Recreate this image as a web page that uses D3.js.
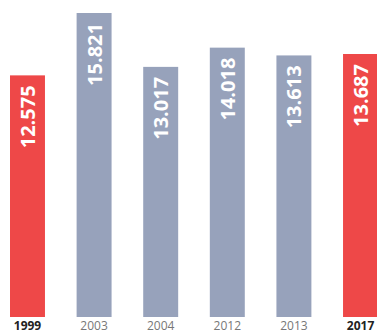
<!DOCTYPE html>
<html>
<head>
<meta charset="utf-8">
<script src="https://cdn.jsdelivr.net/npm/d3@7"></script>
<style>
  html, body { margin: 0; padding: 0; background: #fff; }
  svg { display: block; }
</style>
</head>
<body>
<svg id="chart" width="377" height="334"></svg>
<script>
const years = ["1999", "2003", "2004", "2012", "2013", "2017"];
const values = [12.575, 15.821, 13.017, 14.018, 13.613, 13.687];
const highlighted = ["1999", "2017"];

const width = 377;
const height = 334;
const baseline = 317;

const svg = d3.select("#chart");

const scaleX = d3.scaleBand()
    .domain(years)
    .range([10, 378])
    .paddingInner(0.475)
    .paddingOuter(0);

// bars start from zero
const scaleY = d3.scaleLinear()
    .domain([0, 15.821])
    .range([baseline, 13]);

const data = years.map((y, i) => ({year: y, value: values[i], hot: highlighted.includes(y)}));

svg.selectAll("rect.bar")
    .data(data)
    .join("rect")
    .classed("bar", true)
    .attr("x", d => scaleX(d.year))
    .attr("y", d => scaleY(d.value))
    .attr("width", scaleX.bandwidth())
    .attr("height", d => baseline - scaleY(d.value))
    .attr("fill", d => d.hot ? "#ee4848" : "#97a2bb");

// value labels, rotated inside the bars
svg.selectAll("text.value")
    .data(data)
    .join("text")
    .classed("value", true)
    .attr("transform", d => `translate(${scaleX(d.year) + scaleX.bandwidth() / 2}, ${scaleY(d.value) + 10}) rotate(-90)`)
    .attr("text-anchor", "end")
    .attr("dominant-baseline", "central")
    .attr("font-family", "'Open Sans', sans-serif")
    .attr("font-weight", "bold")
    .attr("font-size", 20)
    .attr("fill", "#fff")
    .text(d => d.value.toFixed(3));

// year axis
const axisX = d3.axisBottom(scaleX).tickSize(0).tickPadding(4);

const gx = svg.append("g")
    .attr("transform", `translate(0, ${baseline})`)
    .call(axisX);

gx.select(".domain").remove();
gx.selectAll("text")
    .attr("font-family", "'Open Sans', sans-serif")
    .attr("font-size", 12)
    .attr("font-weight", d => highlighted.includes(d) ? "bold" : "normal")
    .attr("fill", d => highlighted.includes(d) ? "#222" : "#777");
</script>
</body>
</html>
